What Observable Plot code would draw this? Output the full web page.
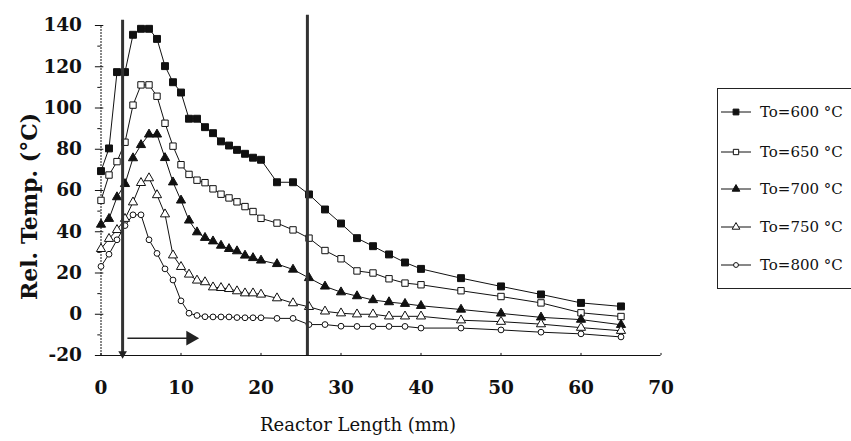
<!DOCTYPE html>
<html><head><meta charset="utf-8">
<script src="https://cdn.jsdelivr.net/npm/d3@7"></script>
<script src="https://cdn.jsdelivr.net/npm/@observablehq/plot@0.6"></script>
<style>
body{margin:0;background:#fff;}
#wrap{position:relative;width:851px;height:441px;overflow:hidden;font-family:"DejaVu Serif",serif;}
#legend{position:absolute;left:717px;top:88px;}
</style></head><body><div id="wrap"></div>
<script>
// ---- data ----
const xs = [0,1,2,3,4,5,6,7,8,9,10,11,12,13,14,15,16,17,18,19,20,22,24,26,28,30,32,34,36,38,40,45,50,55,60,65];
const t600 = [69.4,80.4,117.4,117.4,135.5,138.4,138.4,133.5,120.3,112.5,107.5,94.8,94.8,90.7,87.8,83.8,81.8,79.7,77.8,75.9,74.9,64,64,58.1,50.8,44,36.9,33,29,25.1,22,17.5,13.5,9.6,5.5,3.8];
const t650 = [55.2,67.5,74,83.4,101.4,111.2,111.2,105.7,92.6,81.5,72.5,67.8,65,63.8,60.8,58.2,56.4,54.5,52.2,49.8,46.5,44.2,40.9,36.9,30.9,26.9,21,20,17.2,15.1,14.3,11.4,8.6,5.5,0.7,-1.1];
const t700 = [43.5,46.3,56.8,63.2,75.7,82.1,87.2,87.2,75.8,64,55.2,45.5,39.8,37.1,35.4,33.3,31.7,30.6,28.5,27.3,26.1,24.4,21.7,17.6,13.5,10.7,8.8,6.9,5.9,5.1,4.1,2.3,0.4,-1.5,-2.6,-5.1];
const t750 = [31.7,36.6,40.9,46.3,54.3,63.7,66,57.8,48.5,28.6,23,19.3,16.4,15.6,13.1,12.8,12.3,11.2,10.2,10.2,9.6,7.8,5.4,3.6,1.4,0.5,0,0,-1,-1,-1,-2.9,-3.6,-4.8,-6.5,-8];
const t800 = [23.2,29.1,36.1,43,48.2,48.2,36.1,29.5,22,16.6,6.5,0.5,-0.6,-1.2,-1.3,-1.3,-1.3,-1.6,-1.7,-1.7,-1.7,-2,-2,-5,-5,-5.8,-5.9,-5.9,-5.9,-5.9,-6.7,-6.7,-7.6,-8.7,-9.5,-11];
const seriesNames = ["To=600 °C","To=650 °C","To=700 °C","To=750 °C","To=800 °C"];
const seriesSymbols = ["square","square","triangle","triangle","circle"];
const seriesFilled = [true,false,true,false,false];
const seriesR = [3.9,3.6,3.4,3.4,2.9];
const yTicks = [-20,0,20,40,60,80,100,120,140];
const yMinor = [-10,10,30,50,70,90,110,130];
const xTicks = [0,10,20,30,40,50,60,70];
const markLines = [2.7, 25.8];
const markLineTops = [142.5, 145];
const arrowFrom = 3.3, arrowTo = 11.2, arrowY = -11.6;
const xTitle = "Reactor Length (mm)";
const yTitle = "Rel. Temp. (°C)";

const allSeries = [t600,t650,t700,t750,t800];
const rows = allSeries.flatMap((vals, i) => xs.map((x, j) => ({x, y: vals[j], s: seriesNames[i], i})));

const ink = "#111";
const marks = [
  // axes
  Plot.ruleY([-20], {x1: 0, x2: 70, stroke: ink, strokeWidth: 1.2}),
  Plot.ruleX([0], {y1: -20, y2: 140, stroke: ink, strokeWidth: 1, strokeDasharray: "2,1"}),
  Plot.ruleY(yTicks, {x1: -0.7, x2: 0.35, stroke: ink}),
  Plot.ruleY(yMinor, {x1: -0.4, x2: 0, stroke: ink}),
  Plot.ruleX(xTicks, {y1: -20, y2: -19, stroke: ink}),
  Plot.text(yTicks, {x: 0, y: d => d, text: d => String(d), textAnchor: "end", dx: -19, fontSize: 18.5, fontWeight: "bold", fill: ink}),
  Plot.text(xTicks, {x: d => d, y: -20, text: d => String(d), dy: 33, fontSize: 18.5, fontWeight: "bold", fill: ink}),
  Plot.text([xTitle], {frameAnchor: "bottom", text: d => d, dy: 75, dx: -23, fontSize: 18, fill: ink}),
  Plot.text([yTitle], {frameAnchor: "left", textAnchor: "middle", text: d => d, dx: -71, dy: 16, rotate: -90, fontSize: 22, fontWeight: "bold", fill: ink}),
  // lines
  Plot.line(rows, {x: "x", y: "y", z: "s", stroke: ink, strokeWidth: 1}),
];
allSeries.forEach((vals, i) => {
  marks.push(Plot.dot(rows.filter(d => d.i === i), {
    x: "x", y: "y", symbol: () => seriesSymbols[i], r: seriesR[i],
    fill: seriesFilled[i] ? ink : "white", stroke: ink, strokeWidth: 1
  }));
});
// vertical marker lines and arrows
markLines.forEach((v, k) => {
  marks.push(Plot.ruleX([v], {y1: -20, y2: markLineTops[k], stroke: "#333", strokeWidth: 3}));
});
marks.push(Plot.dot([markLines[0]], {x: d => d, y: -19.2, symbol: "triangle", rotate: 180, r: 3.2, fill: "#222", stroke: "none"}));
marks.push(Plot.link([arrowY], {x1: arrowFrom, x2: arrowTo, y1: d => d, y2: d => d, stroke: "#222", strokeWidth: 1.5}));
marks.push(Plot.dot([arrowY], {x: arrowTo, y: d => d, symbol: "triangle", rotate: 90, r: 5.5, fill: "#222", stroke: "none"}));

const chart = Plot.plot({
  width: 851, height: 441,
  marginLeft: 100.5, marginRight: 190.5, marginTop: 25, marginBottom: 86,
  x: {domain: [0, 70], axis: null},
  y: {domain: [-20, 140], axis: null},
  style: {fontFamily: "DejaVu Serif, serif", background: "white", color: ink},
  marks
});
const wrap = document.getElementById("wrap");
wrap.appendChild(chart);

// legend
const lg = d3.select(wrap).append("svg").attr("id", "legend").attr("width", 134).attr("height", 202);
lg.append("rect").attr("x", 0.5).attr("y", 0.5).attr("width", 150).attr("height", 200).attr("fill", "white").attr("stroke", "#222");
const rowY = [24, 64, 101, 139, 177];
const symMap = {square: d3.symbolSquare, triangle: d3.symbolTriangle, circle: d3.symbolCircle};
seriesNames.forEach((name, i) => {
  const g = lg.append("g").attr("transform", `translate(0,${rowY[i]})`);
  g.append("line").attr("x1", 4).attr("x2", 34).attr("y1", 0).attr("y2", 0).attr("stroke", ink);
  g.append("path").attr("transform", "translate(19,0)")
    .attr("d", d3.symbol(symMap[seriesSymbols[i]], Math.PI * seriesR[i] * seriesR[i] * 0.7)())
    .attr("fill", seriesFilled[i] ? ink : "white").attr("stroke", ink);
  g.append("text").attr("x", 43).attr("y", 0).attr("dy", "0.35em").attr("font-size", 15)
    .attr("font-family", "DejaVu Serif, serif").attr("fill", ink).text(name);
});
</script></body></html>
